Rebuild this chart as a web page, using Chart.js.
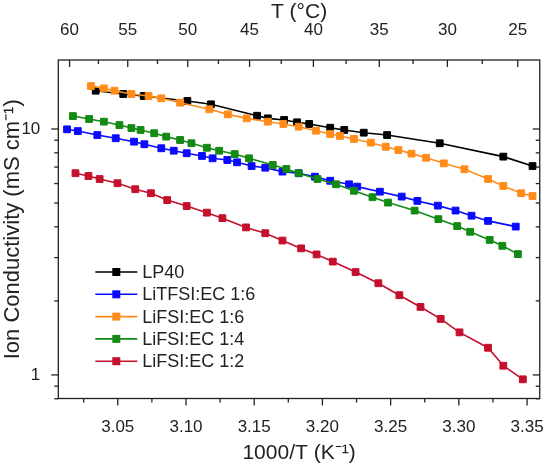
<!DOCTYPE html>
<html lang="en">
<head>
<meta charset="UTF-8">
<title>Ion Conductivity vs 1000/T</title>
<script src="https://cdn.jsdelivr.net/npm/chart.js"></script>
<style>
  * { margin: 0; padding: 0; box-sizing: border-box; }
  body { background: #fff; width: 555px; height: 464px; overflow: hidden; }
  #wrap { position: relative; width: 555px; height: 464px; }
</style>
</head>
<body>
<div id="wrap"><canvas id="chart" width="555" height="464"></canvas></div>
<script>
  // data: x = 1000/T (K^-1), y = conductivity (mS/cm)
  const xLP40 = [3.0338, 3.0540, 3.0690, 3.1010, 3.1183, 3.1521, 3.1600, 3.1719, 3.1814, 3.1903, 3.2057, 3.2160, 3.2303, 3.2474, 3.2860, 3.3326, 3.3540];
  const yLP40 = [14.31, 13.88, 13.62, 13.00, 12.60, 11.32, 11.05, 10.88, 10.65, 10.48, 10.12, 9.91, 9.66, 9.45, 8.75, 7.72, 7.07];

  const xTFSI16 = [3.0128, 3.0207, 3.0350, 3.0485, 3.0619, 3.0695, 3.0819, 3.0910, 3.1005, 3.1117, 3.1195, 3.1303, 3.1374, 3.1481, 3.1581, 3.1707, 3.1826, 3.1945, 3.2057, 3.2195, 3.2255, 3.2421, 3.2581, 3.2696, 3.2846, 3.2976, 3.3093, 3.3214, 3.3417];
  const yTFSI16 = [9.97, 9.81, 9.45, 9.17, 8.88, 8.67, 8.35, 8.16, 7.97, 7.77, 7.60, 7.48, 7.32, 7.07, 6.96, 6.71, 6.61, 6.40, 6.16, 5.96, 5.83, 5.56, 5.31, 5.10, 4.88, 4.66, 4.44, 4.23, 4.01];

  const xFSI16 = [3.0303, 3.0398, 3.0476, 3.0600, 3.0726, 3.0819, 3.0957, 3.1171, 3.1307, 3.1445, 3.1600, 3.1714, 3.1826, 3.1953, 3.2057, 3.2128, 3.2231, 3.2355, 3.2464, 3.2557, 3.2653, 3.2760, 3.2890, 3.3041, 3.3214, 3.3326, 3.3457, 3.3540];
  const yFSI16 = [14.95, 14.63, 14.31, 13.88, 13.62, 13.33, 12.79, 12.03, 11.47, 11.05, 10.71, 10.48, 10.22, 9.84, 9.54, 9.37, 9.11, 8.80, 8.47, 8.21, 7.94, 7.64, 7.25, 6.86, 6.26, 5.87, 5.48, 5.34];

  const xFSI14 = [3.0171, 3.0290, 3.0398, 3.0512, 3.0600, 3.0667, 3.0767, 3.0855, 3.0957, 3.1040, 3.1153, 3.1243, 3.1357, 3.1462, 3.1636, 3.1736, 3.1826, 3.1964, 3.2100, 3.2231, 3.2367, 3.2481, 3.2676, 3.2850, 3.2988, 3.3083, 3.3226, 3.3319, 3.3433];
  const yFSI14 = [11.29, 10.98, 10.71, 10.38, 10.09, 9.91, 9.61, 9.31, 9.02, 8.75, 8.39, 8.16, 7.91, 7.60, 7.14, 6.88, 6.61, 6.26, 5.96, 5.61, 5.28, 5.02, 4.66, 4.30, 4.03, 3.82, 3.54, 3.35, 3.10];

  const xFSI12 = [3.0190, 3.0285, 3.0367, 3.0498, 3.0628, 3.0743, 3.0862, 3.1005, 3.1153, 3.1267, 3.1440, 3.1581, 3.1707, 3.1844, 3.1957, 3.2076, 3.2243, 3.2410, 3.2564, 3.2719, 3.2867, 3.3005, 3.3214, 3.3326, 3.3469];
  const yFSI12 = [6.61, 6.44, 6.26, 6.02, 5.69, 5.48, 5.14, 4.86, 4.57, 4.34, 3.98, 3.77, 3.52, 3.27, 3.09, 2.89, 2.62, 2.36, 2.11, 1.89, 1.69, 1.49, 1.29, 1.09, 0.96];

  const seriesNames = ['LP40', 'LiTFSI:EC 1:6', 'LiFSI:EC 1:6', 'LiFSI:EC 1:4', 'LiFSI:EC 1:2'];
  const seriesColors = ['#000000', '#0a0aff', '#ff8c1a', '#138a13', '#c4102c'];

  // axis ticks
  const xMajor = [3.05, 3.10, 3.15, 3.20, 3.25, 3.30, 3.35];
  const xMinor = [3.025, 3.075, 3.125, 3.175, 3.225, 3.275, 3.325];
  const yMajor = [1, 10];
  const yMinor = [0.8, 0.9, 2, 3, 4, 5, 6, 7, 8, 9];
  const tMajor = [60, 55, 50, 45, 40, 35, 30, 25];
  const tMinor = [57.5, 52.5, 47.5, 42.5, 37.5, 32.5, 27.5];

  const toInvT = t => 1000 / (t + 273.15);
  const pts = (xs, ys) => xs.map((x, i) => ({ x: x, y: ys[i] }));

  const allX = [xLP40, xTFSI16, xFSI16, xFSI14, xFSI12];
  const allY = [yLP40, yTFSI16, yFSI16, yFSI14, yFSI12];
  const drawOrder = [5, 4, 2, 3, 1];

  const FONT = '"Liberation Sans", Arial, sans-serif';
  const INK = '#222';

  Chart.defaults.font.family = FONT;
  Chart.defaults.color = INK;

  // frame and tick marks on all four sides
  const frameTicks = {
    id: 'frameTicks',
    beforeDatasetsDraw(chart) {
      const { ctx, chartArea: a, scales } = chart;
      ctx.save();
      ctx.strokeStyle = INK;
      ctx.lineWidth = 1.3;
      ctx.strokeRect(a.left, a.top, a.right - a.left, a.bottom - a.top);
      const line = (x1, y1, x2, y2) => { ctx.beginPath(); ctx.moveTo(x1, y1); ctx.lineTo(x2, y2); ctx.stroke(); };
      const inX = px => px >= a.left - 0.5 && px <= a.right + 0.5;
      const inY = py => py >= a.top - 0.5 && py <= a.bottom + 0.5;

      xMajor.forEach(v => { const p = scales.x.getPixelForValue(v); if (inX(p)) line(p, a.bottom, p, a.bottom + 7); });
      xMinor.forEach(v => { const p = scales.x.getPixelForValue(v); if (inX(p)) line(p, a.bottom, p, a.bottom + 4); });

      tMajor.forEach(t => { const p = scales.x2.getPixelForValue(toInvT(t)); if (inX(p)) line(p, a.top, p, a.top + 7); });
      tMinor.forEach(t => { const p = scales.x2.getPixelForValue(toInvT(t)); if (inX(p)) line(p, a.top, p, a.top + 4); });

      yMajor.forEach(v => {
        const p = scales.y.getPixelForValue(v);
        if (inY(p)) { line(a.left - 7, p, a.left, p); line(a.right - 7, p, a.right, p); }
      });
      yMinor.forEach(v => {
        const p = scales.y.getPixelForValue(v);
        if (inY(p)) { line(a.left - 4, p, a.left, p); line(a.right - 4, p, a.right, p); }
      });
      ctx.restore();
    }
  };

  // legend with line + marker samples, inside the plot
  const lineLegend = {
    id: 'lineLegend',
    afterDraw(chart) {
      const { ctx, chartArea: a } = chart;
      const x0 = a.left + 37, y0 = a.top + 212, step = 22.3;
      ctx.save();
      ctx.font = '18px ' + FONT;
      ctx.textBaseline = 'middle';
      chart.data.datasets.forEach((ds, i) => {
        const y = y0 + i * step;
        ctx.strokeStyle = ds.borderColor;
        ctx.lineWidth = ds.borderWidth;
        ctx.beginPath(); ctx.moveTo(x0, y); ctx.lineTo(x0 + 42, y); ctx.stroke();
        ctx.fillStyle = ds.backgroundColor;
        ctx.fillRect(x0 + 21 - 4, y - 4, 8, 8);
        ctx.fillStyle = INK;
        ctx.fillText(ds.label, x0 + 47, y + 1);
      });
      ctx.restore();
    }
  };

  const datasets = seriesNames.map((name, i) => ({
    label: name,
    data: pts(allX[i], allY[i]),
    showLine: true,
    borderColor: seriesColors[i],
    backgroundColor: seriesColors[i],
    borderWidth: 1.6,
    pointStyle: 'rect',
    pointRadius: 4.8,
    pointBorderWidth: 1,
    pointBorderColor: seriesColors[i],
    pointBackgroundColor: seriesColors[i],
    order: drawOrder[i],
    xAxisID: 'x',
    yAxisID: 'y'
  }));

  new Chart(document.getElementById('chart'), {
    type: 'scatter',
    data: { datasets: datasets },
    plugins: [frameTicks, lineLegend],
    options: {
      responsive: false,
      animation: false,
      devicePixelRatio: 1,
      layout: { padding: { left: 0, right: 3.3, top: 0, bottom: 0 } },
      plugins: { legend: { display: false }, tooltip: { enabled: false } },
      scales: {
        x: {
          type: 'linear', position: 'bottom', min: 3.0064, max: 3.3593,
          afterBuildTicks: s => { s.ticks = xMajor.map(v => ({ value: v })); },
          afterFit: s => { s.height = 65.5; },
          ticks: { callback: v => v.toFixed(2), padding: 11, font: { size: 17 }, color: INK, maxRotation: 0, autoSkip: false },
          grid: { display: false },
          border: { display: false },
          title: { display: true, text: '1000/T (K⁻¹)', font: { size: 21, lineHeight: 1 }, padding: 0, color: INK }
        },
        x2: {
          type: 'linear', position: 'top', min: 2.9928, max: 3.3713,
          afterBuildTicks: s => { s.ticks = tMajor.map(t => ({ value: toInvT(t) })); },
          afterFit: s => { s.height = 60; },
          ticks: { callback: (v, i) => String(tMajor[i]), padding: 11, font: { size: 17 }, color: INK, maxRotation: 0, autoSkip: false },
          grid: { display: false },
          border: { display: false },
          title: { display: true, text: 'T (°C)', font: { size: 21 }, padding: 0, color: INK }
        },
        y: {
          type: 'logarithmic', position: 'left', min: 0.802, max: 19.08,
          afterBuildTicks: s => { s.ticks = yMajor.map(v => ({ value: v })); },
          afterFit: s => { s.width = 58.3; },
          ticks: { callback: v => String(v), padding: 10, font: { size: 17 }, color: INK, autoSkip: false },
          grid: { display: false },
          border: { display: false },
          title: { display: true, text: 'Ion Conductivity (mS cm⁻¹)', font: { size: 22 }, padding: 0, color: INK }
        }
      }
    }
  });
</script>
</body>
</html>
